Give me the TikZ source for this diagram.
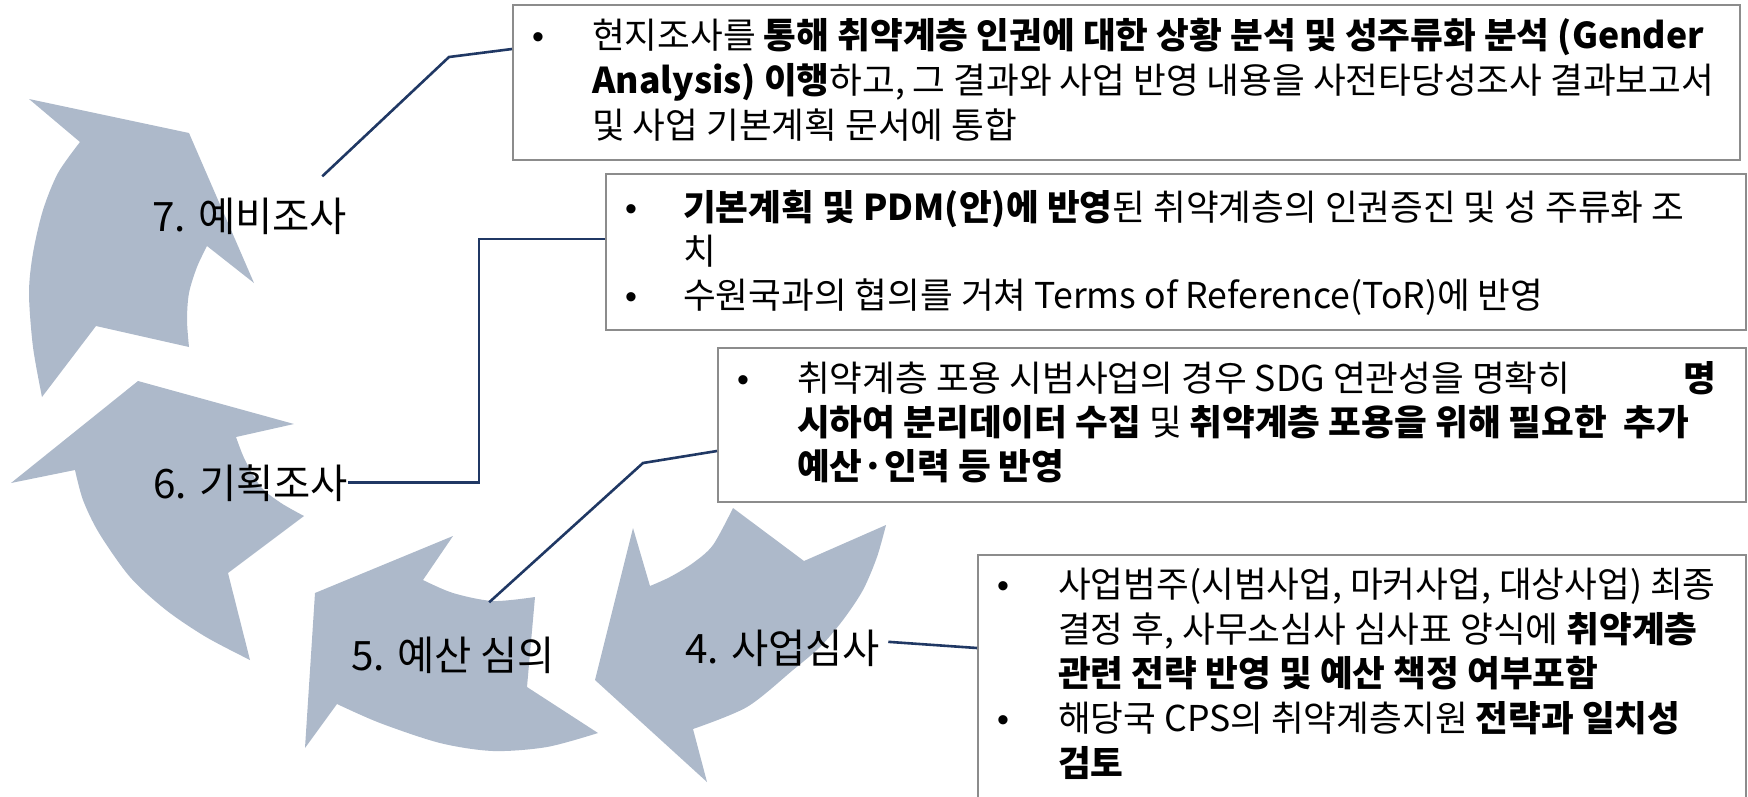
\documentclass[tikz,border=0pt]{standalone}
\usepackage{fontspec}
\setmainfont{Noto Sans CJK KR}
\newfontfamily\bulletfont{Liberation Sans}
\usetikzlibrary{calc}
\definecolor{arrowfill}{HTML}{ADB9CA}
\definecolor{connc}{HTML}{203864}
\definecolor{boxc}{HTML}{8C8C8C}
\begin{document}
\begin{tikzpicture}[x=1pt,y=-1pt,
  conn/.style={draw=connc, line width=2.6pt},
  boxn/.style={draw=boxc, line width=2pt, fill=white, inner sep=0pt, anchor=north west},
  lab/.style={font=\fontsize{40.5}{46}\selectfont, anchor=base west, inner sep=0pt},
  txt/.style={font=\fontsize{35.6}{42}\selectfont, anchor=base west, inner sep=0pt},
  bul/.style={font=\bulletfont\fontsize{34}{40}\selectfont, anchor=base west, inner sep=0pt},
  arr/.style={fill=arrowfill}]
\clip (0,0) rectangle (1748,796);

% arrows
\fill[arr] (29,99) -- (189,133) -- (254,283) -- (207,246)
  -- plot[smooth] coordinates {(207,246) (197,267) (189,293) (187,320) (189,347)}
  -- (96,326) -- (42,397)
  -- plot[smooth] coordinates {(42,397) (33,347) (29,293) (33,253) (43,210) (58,173) (80,142)}
  -- cycle;
\fill[arr] (138,381) -- (294,424) -- (236,437)
  -- plot[smooth] coordinates {(236,437) (245,460) (261,487) (281,503) (304,516)}
  -- (228,573) -- (250,660)
  -- plot[smooth] coordinates {(250,660) (206,637) (166,610) (130,577) (99,533) (83,500) (75,470)}
  -- (11,483) -- cycle;
\fill[arr] (315,593) -- (453,536) -- (423,580)
  -- plot[smooth] coordinates {(423,580) (453,593) (493,601) (535,597)}
  -- (527,687) -- (598,733)
  -- plot[smooth] coordinates {(598,733) (547,747) (493,751) (440,743) (380,723) (337,704)}
  -- (305,748) -- cycle;
\fill[arr] (733,508) -- (804,561) -- (886,525)
  -- plot[smooth] coordinates {(886,525) (877,557) (863,590) (843,620) (820,647) (793,670) (747,707) (693,729)}
  -- (707,782) -- (595,680) -- (633,528) -- (650,586)
  -- plot[smooth] coordinates {(650,586) (670,577) (693,563) (713,545) (733,508)}
  -- cycle;

% labels
\node[lab] (lab7) at (152,231) {7. 예비조사};
\node[lab] (lab6) at (153,498) {6. 기획조사};
\node[lab] (lab5) at (351,670) {5. 예산 심의};
\node[lab] (lab4) at (685,663) {4. 사업심사};

% boxes
\node[boxn, minimum width=1227pt, minimum height=155pt] (b1) at (512,4) {};
\node[boxn, minimum width=1140pt, minimum height=156pt] (b2) at (605,173) {};
\node[boxn, minimum width=1028pt, minimum height=154pt] (b3) at (717,347) {};
\node[boxn, minimum width=768pt, minimum height=266pt] (b4) at (977,554) {};

% connectors
\draw[conn] ([shift={(-25,-21)}]lab7.north east) -- (449,57) -- ($(b1.north west)+(0,45)$);
\draw[conn] (lab6.east) -| (479,239) -- ($(b2.north west)+(0,66)$);
\draw[conn] ([shift={(36,-34)}]lab5.north) -- (643,463) -- ($(b3.north west)+(0,104)$);
\draw[conn] ([shift={(8,-6)}]lab4.east) -- ($(b4.north west)+(0,94)$);

% box 1 text
\node[bul] (d11) at (532,48) {•};
\node[txt] (t11) at (592,48) {현지조사를 \textbf{통해 취약계층 인권에 대한 상황 분석 및 성주류화 분석 (Gender}};
\node[txt] (t12) at (592,93) {\textbf{Analysis) 이행}하고, 그 결과와 사업 반영 내용을 사전타당성조사 결과보고서};
\node[txt] (t13) at (592,138) {및 사업 기본계획 문서에 통합};

% box 2 text
\node[bul] (d21) at (625,220) {•};
\node[txt] (t21) at (683,220) {\textbf{기본계획 및 PDM(안)에 반영}된 취약계층의 인권증진 및 성 주류화 조};
\node[txt] (t22) at (683,264) {치};
\node[bul] (d22) at (625,308) {•};
\node[txt] (t23) at (683,308) {수원국과의 협의를 거쳐 Terms of Reference(ToR)에 반영};

% box 3 text
\node[bul] (d31) at (737,391) {•};
\node[txt] (t31) at (797,391) {\makebox[919pt][l]{취약계층 포용 시범사업의 경우 SDG 연관성을 명확히\hfill\textbf{명}}};
\node[txt] (t32) at (797,435) {\textbf{시하여 분리데이터 수집} 및 \textbf{취약계층 포용을 위해 필요한\ \ 추가}};
\node[txt] (t33) at (797,479) {\textbf{예산·인력 등 반영}};

% box 4 text
\node[bul] (d41) at (997,597) {•};
\node[txt] (t41) at (1058,597) {사업범주(시범사업, 마커사업, 대상사업) 최종};
\node[txt] (t42) at (1058,642) {결정 후, 사무소심사 심사표 양식에 \textbf{취약계층}};
\node[txt] (t43) at (1058,686) {\textbf{관련 전략 반영 및 예산 책정 여부포함}};
\node[bul] (d42) at (997,731) {•};
\node[txt] (t44) at (1058,731) {해당국 CPS의 취약계층지원 \textbf{전략과 일치성}};
\node[txt] (t45) at (1058,776) {\textbf{검토}};
\end{tikzpicture}
\end{document}
